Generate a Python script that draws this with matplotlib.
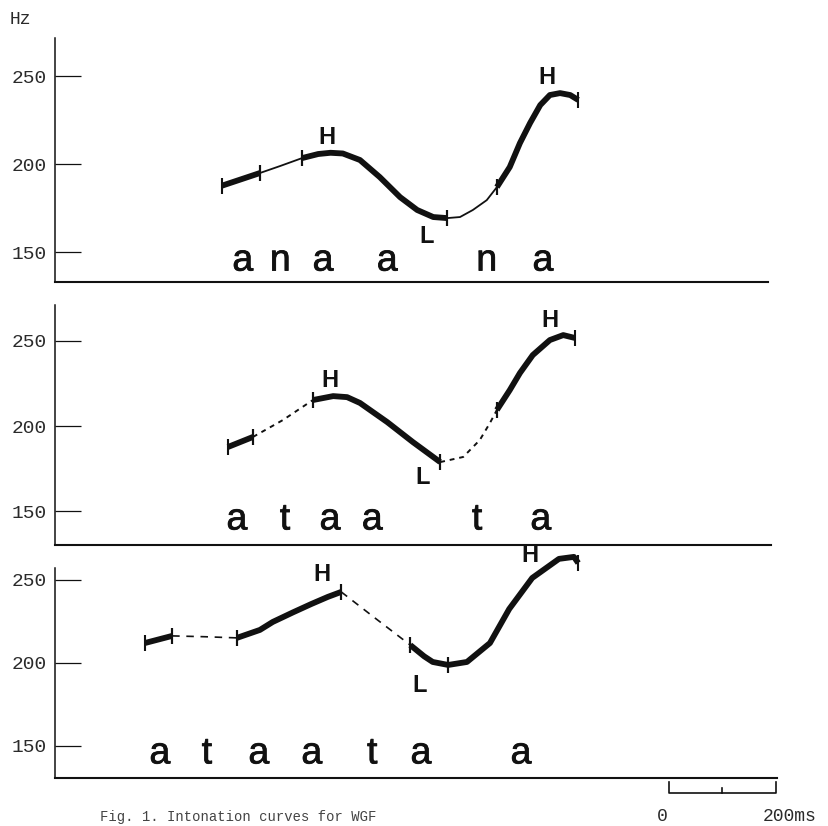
import matplotlib.pyplot as plt
import matplotlib.patheffects as pe

# time in ms, F0 in Hz

# panel 1: "a n a a n a"
p1_syll = ['a', 'n', 'a', 'a', 'n', 'a']
p1_syll_t = [351, 421, 501, 621, 807, 912]
p1_seg1_t = [312, 383]
p1_seg1_f = [187.7, 194.9]
p1_seg2_t = [383, 421, 462]
p1_seg2_f = [194.9, 198.9, 203.4]
p1_seg3_t = [462, 492, 515, 538, 570, 607, 645, 677, 707, 733]
p1_seg3_f = [203.4, 205.7, 206.4, 206.0, 202.3, 192.6, 181.2, 173.9, 169.9, 169.3]
p1_seg4_t = [733, 757, 781, 807, 826]
p1_seg4_f = [169.3, 169.9, 173.9, 179.5, 186.9]
p1_seg5_t = [826, 850, 869, 888, 907, 925, 944, 963, 978]
p1_seg5_f = [186.9, 198.3, 211.9, 223.3, 233.5, 239.2, 240.3, 239.2, 236.4]
p1_tones = ['H', 'L', 'H']
p1_tones_t = [508, 695, 920]
p1_tones_f = [215.3, 159.0, 249.4]

# panel 2: "a t a a t a"
p2_syll = ['a', 't', 'a', 'a', 't', 'a']
p2_syll_t = [340, 430, 514, 593, 789, 908]
p2_seg1_t = [323, 370]
p2_seg1_f = [187.7, 193.6]
p2_seg2_t = [370, 426, 482]
p2_seg2_f = [193.6, 203.5, 215.2]
p2_seg3_t = [482, 520, 546, 570, 621, 669, 720]
p2_seg3_f = [215.2, 217.5, 216.9, 213.5, 202.3, 190.6, 178.9]
p2_seg4_t = [720, 763, 794, 813, 826]
p2_seg4_f = [178.9, 181.9, 191.8, 201.8, 209.4]
p2_seg5_t = [826, 850, 869, 893, 925, 950, 972]
p2_seg5_f = [209.4, 221.0, 231.0, 241.5, 250.3, 253.2, 251.5]
p2_tones = ['H', 'L', 'H']
p2_tones_t = [514, 688, 925]
p2_tones_f = [226.9, 169.6, 262.0]

# panel 3: "a t a a t a a"
p3_syll = ['a', 't', 'a', 'a', 't', 'a', 'a']
p3_syll_t = [196, 284, 381, 480, 593, 684, 871]
p3_seg1_t = [168, 219]
p3_seg1_f = [212.0, 216.3]
p3_seg2_t = [219, 280, 340]
p3_seg2_f = [216.3, 215.8, 215.1]
p3_seg3_t = [340, 383, 407, 445, 479, 510, 535]
p3_seg3_f = [215.1, 219.9, 224.7, 230.5, 235.5, 239.8, 242.8]
p3_seg4_t = [535, 598, 664]
p3_seg4_f = [242.8, 227.1, 210.8]
p3_seg5_t = [664, 690, 706, 735]
p3_seg5_f = [210.8, 204.0, 200.6, 198.8]
p3_seg6_t = [735, 770, 813, 849, 892, 942, 970, 978]
p3_seg6_f = [198.8, 200.6, 212.0, 232.5, 251.2, 262.7, 263.9, 260.2]
p3_tones = ['H', 'L', 'H']
p3_tones_t = [499, 682, 888]
p3_tones_f = [253.3, 186.7, 264.5]

yticks = [150, 200, 250]
scale_ms = [0, 100, 200]

INK = '#111111'
TYPE = '#2a2a2a'
MONO = 'Liberation Mono'
SANS = 'Liberation Sans'

W, H = 829, 826
fig = plt.figure(figsize=(W / 100, H / 100), dpi=100)
fig.patch.set_facecolor('white')

PX_PER_MS = 0.535


def make_panel(y_top, y_bot, x_right, ylim):
    ax = fig.add_axes([55 / W, 1 - y_bot / H, (x_right - 55) / W, (y_bot - y_top) / H])
    ax.set_xlim(0, (x_right - 55) / PX_PER_MS)
    ax.set_ylim(*ylim)
    for s in ['top', 'right']:
        ax.spines[s].set_visible(False)
    ax.spines['left'].set_linewidth(1.1)
    ax.spines['bottom'].set_linewidth(1.5)
    ax.spines['left'].set_color(INK)
    ax.spines['bottom'].set_color(INK)
    ax.set_xticks([])
    ax.set_yticks(yticks)
    ax.set_yticklabels([str(v) for v in yticks], family=MONO, fontsize=14, color=TYPE)
    ax.tick_params(axis='y', direction='in', length=18.5, width=0.9, pad=6, colors=INK,
                   labelcolor=TYPE)
    ax.patch.set_alpha(0)
    return ax


def seg(ax, t, f, style):
    if style == 'thick':
        ax.plot(t, f, color=INK, lw=4.2, solid_capstyle='butt', clip_on=False)
    elif style == 'thin':
        ax.plot(t, f, color=INK, lw=1.3, clip_on=False)
    elif style == 'dot':
        ax.plot(t, f, color=INK, lw=1.4, ls=(0, (2.5, 2.5)), clip_on=False)
    else:
        ax.plot(t, f, color=INK, lw=1.2, ls=(0, (4.5, 4)), clip_on=False)
    ax.plot([t[0], t[-1]], [f[0], f[-1]], ls='none', marker='|', ms=12, mew=1.5,
            color=INK, clip_on=False)


def labels(ax, syll, syll_t, tones, tones_t, tones_f):
    for s, t in zip(syll, syll_t):
        ax.text(t, 139.5, s, ha='center', va='baseline', fontsize=27, family=SANS, color=INK,
                path_effects=[pe.withStroke(linewidth=0.55, foreground=INK)])
    for s, t, f in zip(tones, tones_t, tones_f):
        ax.text(t, f, s, ha='center', va='center', fontsize=17, family=SANS,
                fontweight='bold', color=INK)


ax1 = make_panel(38, 282, 768, (133.0, 271.6))
seg(ax1, p1_seg1_t, p1_seg1_f, 'thick')
seg(ax1, p1_seg2_t, p1_seg2_f, 'thin')
seg(ax1, p1_seg3_t, p1_seg3_f, 'thick')
seg(ax1, p1_seg4_t, p1_seg4_f, 'thin')
seg(ax1, p1_seg5_t, p1_seg5_f, 'thick')
labels(ax1, p1_syll, p1_syll_t, p1_tones, p1_tones_t, p1_tones_f)

ax2 = make_panel(305, 545, 771, (130.4, 270.8))
seg(ax2, p2_seg1_t, p2_seg1_f, 'thick')
seg(ax2, p2_seg2_t, p2_seg2_f, 'dot')
seg(ax2, p2_seg3_t, p2_seg3_f, 'thick')
seg(ax2, p2_seg4_t, p2_seg4_f, 'dot')
seg(ax2, p2_seg5_t, p2_seg5_f, 'thick')
labels(ax2, p2_syll, p2_syll_t, p2_tones, p2_tones_t, p2_tones_f)

ax3 = make_panel(568, 778, 777, (130.7, 257.2))
seg(ax3, p3_seg1_t, p3_seg1_f, 'thick')
seg(ax3, p3_seg2_t, p3_seg2_f, 'dash')
seg(ax3, p3_seg3_t, p3_seg3_f, 'thick')
seg(ax3, p3_seg4_t, p3_seg4_f, 'dash')
seg(ax3, p3_seg5_t, p3_seg5_f, 'thick')
seg(ax3, p3_seg6_t, p3_seg6_f, 'thick')
labels(ax3, p3_syll, p3_syll_t, p3_tones, p3_tones_t, p3_tones_f)

fig.text(10 / W, 1 - 20 / H, 'Hz', family=MONO, fontsize=13, color=TYPE, va='center')

# 200 ms scale bar
axs = fig.add_axes([669 / W, 1 - 793 / H, 107 / W, 11 / H])
axs.set_xlim(0, 200)
axs.set_ylim(0, 1)
axs.axis('off')
axs.plot([scale_ms[0], scale_ms[0], scale_ms[-1], scale_ms[-1]], [1, 0, 0, 1],
         color=INK, lw=1.2, clip_on=False)
axs.plot([scale_ms[1], scale_ms[1]], [0, 0.5], color=INK, lw=1.2, clip_on=False)
axs.text(-12, -2.1, '0', family=MONO, fontsize=13, color=TYPE, ha='center', va='center')
axs.text(176, -2.1, '200ms', family=MONO, fontsize=13, color=TYPE, ha='left', va='center')

# caption at the bottom edge of the scan
fig.text(100 / W, 1 - 810 / H, 'Fig. 1. Intonation curves for WGF', family=MONO,
         fontsize=10, color='#444444', va='top', ha='left')

fig.savefig('out.png', dpi=100)
